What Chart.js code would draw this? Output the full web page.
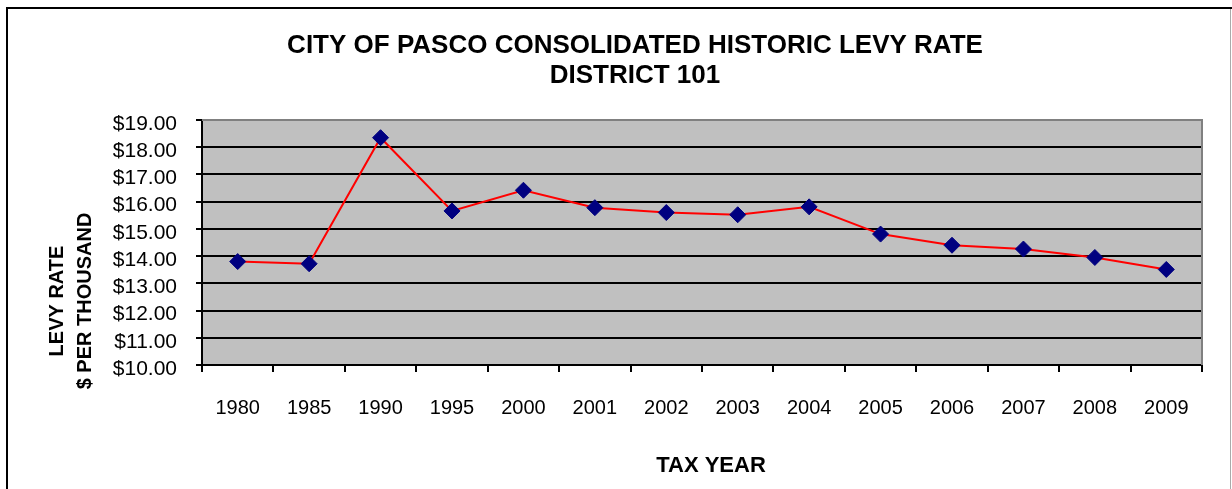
<!DOCTYPE html>
<html>
<head>
<meta charset="utf-8">
<script src="https://cdn.jsdelivr.net/npm/chart.js@4.4.1/dist/chart.umd.min.js"></script>
<style>
  html, body { margin: 0; padding: 0; background: #fff; }
  canvas { display: block; }
</style>
</head>
<body>
<canvas id="levy" width="1232" height="489"></canvas>
<script>
// values
const taxYears = ['1980', '1985', '1990', '1995', '2000', '2001', '2002', '2003', '2004', '2005', '2006', '2007', '2008', '2009'];
const levyRates = [13.80, 13.72, 18.35, 15.66, 16.42, 15.78, 15.60, 15.52, 15.81, 14.81, 14.40, 14.26, 13.95, 13.51];
const titleLines = ['CITY OF PASCO CONSOLIDATED HISTORIC LEVY RATE', 'DISTRICT 101'];
const yTitleLines = ['LEVY RATE', '$ PER THOUSAND'];
const xTitle = 'TAX YEAR';

const FONT = "'Liberation Sans', Arial, sans-serif";

// white page, outer frame, grey plot background and the two axis titles
const framePlugin = {
    id: 'frame',
    beforeDraw(chart) {
        const { ctx, chartArea: a } = chart;
        ctx.save();
        ctx.fillStyle = '#fff';
        ctx.fillRect(0, 0, chart.width, chart.height);
        ctx.fillStyle = '#c0c0c0';
        ctx.fillRect(a.left, a.top, a.right - a.left, a.bottom - a.top);

        ctx.strokeStyle = '#000';
        ctx.lineWidth = 2;
        ctx.beginPath();
        ctx.moveTo(7, chart.height);
        ctx.lineTo(7, 8);
        ctx.lineTo(chart.width, 8);
        ctx.stroke();

        ctx.strokeStyle = '#aaa';
        ctx.lineWidth = 1;
        ctx.beginPath();
        ctx.moveTo(1230.5, 9);
        ctx.lineTo(1230.5, chart.height);
        ctx.stroke();
        ctx.restore();
    },
    beforeDatasetsDraw(chart) {
        const { ctx, chartArea: a } = chart;
        ctx.save();
        ctx.strokeStyle = '#808080';
        ctx.lineWidth = 2;
        ctx.beginPath();
        ctx.moveTo(a.left, a.top);
        ctx.lineTo(a.right, a.top);
        ctx.lineTo(a.right, a.bottom);
        ctx.stroke();
        ctx.restore();
    },
    afterDraw(chart) {
        // axis titles are not centred on their axes in the original
        const { ctx } = chart;
        ctx.save();
        ctx.fillStyle = '#000';
        ctx.textAlign = 'center';
        ctx.textBaseline = 'middle';

        ctx.font = 'bold 22px ' + FONT;
        ctx.fillText(xTitle, 711, 466);

        ctx.font = 'bold 20px ' + FONT;
        ctx.translate(57, 301);
        ctx.rotate(-Math.PI / 2);
        ctx.fillText(yTitleLines[0], 0, 0);
        ctx.fillText(yTitleLines[1], 0, 28);
        ctx.restore();
    }
};

new Chart(document.getElementById('levy'), {
    type: 'line',
    data: {
        labels: taxYears,
        datasets: [{
            label: 'Levy rate',
            data: levyRates,
            borderColor: '#ff0000',
            borderWidth: 2,
            tension: 0,
            pointStyle: 'rectRot',
            pointRadius: 8,
            pointBackgroundColor: '#000080',
            pointBorderColor: '#000080',
            pointBorderWidth: 1
        }]
    },
    options: {
        responsive: false,
        animation: false,
        devicePixelRatio: 1,
        layout: {
            padding: { left: 68, right: 30, top: 0, bottom: 0 }
        },
        plugins: {
            legend: { display: false },
            tooltip: { enabled: false },
            title: {
                display: true,
                text: titleLines,
                color: '#000',
                font: { family: FONT, size: 26, weight: 'bold', lineHeight: 1.154 },
                padding: { top: 31, bottom: 29 }
            }
        },
        scales: {
            x: {
                type: 'category',
                offset: true,
                afterFit: (scale) => { scale.height = 124; },
                grid: {
                    offset: true,
                    drawOnChartArea: false,
                    tickLength: 7,
                    color: '#000',
                    lineWidth: 2
                },
                border: { display: true, color: '#000', width: 2 },
                ticks: {
                    color: '#000',
                    font: { family: FONT, size: 20 },
                    padding: 24,
                    maxRotation: 0,
                    autoSkip: false
                }
            },
            y: {
                min: 10,
                max: 19,
                afterFit: (scale) => { scale.width = 134; },
                grid: {
                    color: (c) => (c.tick && c.tick.value === 19 ? '#808080' : '#000'),
                    lineWidth: 2,
                    tickLength: 6,
                    tickColor: '#000'
                },
                border: { display: true, color: '#000', width: 2 },
                ticks: {
                    stepSize: 1,
                    autoSkip: false,
                    color: '#000',
                    font: { family: FONT, size: 21 },
                    padding: 19,
                    labelOffset: 4,
                    callback: (v) => '$' + Number(v).toFixed(2)
                }
            }
        }
    },
    plugins: [framePlugin]
});
</script>
</body>
</html>
